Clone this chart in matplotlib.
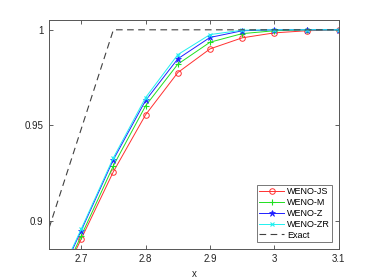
import numpy as np
import matplotlib
matplotlib.use("Agg")
import matplotlib.pyplot as plt

# values
x = [2.65, 2.7, 2.75, 2.8, 2.85, 2.9, 2.95, 3.0, 3.05, 3.1]
weno_js = [0.855, 0.8904, 0.9257, 0.9555, 0.9776, 0.990, 0.9958, 0.9984, 0.9995, 1.0]
weno_m = [0.856, 0.892, 0.9288, 0.9602, 0.982, 0.9935, 0.998, 0.9995, 1.0, 1.0]
weno_z = [0.858, 0.8948, 0.932, 0.963, 0.9848, 0.996, 0.9995, 1.0, 1.0, 1.0]
weno_zr = [0.859, 0.8956, 0.933, 0.9645, 0.987, 0.9975, 0.9998, 1.0, 1.0, 1.0]
exact_x = [2.55, 2.75, 3.1]
exact_y = [0.792, 1.0, 1.0]

xticks = [2.7, 2.8, 2.9, 3.0, 3.1]
xticklabels = ["2.7", "2.8", "2.9", "3", "3.1"]
yticks = [0.9, 0.95, 1.0]
yticklabels = ["0.9", "0.95", "1"]

plt.rcParams['font.family'] = ['Liberation Sans', 'DejaVu Sans']
fig = plt.figure(figsize=(3.74, 2.8), dpi=100)
ax = fig.add_axes([0.131, 0.111, 0.775, 0.818])

lw = 0.7
ax.plot(x, weno_js, color='#ff3030', lw=lw, marker='o', ms=4, mfc='none', mew=0.7, label='WENO-JS')
ax.plot(x, weno_m, color='#20e020', lw=lw, marker='+', ms=4.5, mew=0.8, label='WENO-M')
ax.plot(x, weno_z, color='#2020ff', lw=lw, marker='*', ms=4.5, mew=0.5, label='WENO-Z')
ax.plot(x, weno_zr, color='#20f0f0', lw=lw, marker='x', ms=3.5, mew=0.8, label='WENO-ZR')
ax.plot(exact_x, exact_y, color='#404040', lw=0.8, ls=(0, (6, 4)), label='Exact')

ax.set_xlim(2.65, 3.1)
ax.set_ylim(0.8852, 1.0052)
ax.set_xticks(xticks)
ax.set_xticklabels(xticklabels)
ax.set_yticks(yticks)
ax.set_yticklabels(yticklabels)
ax.tick_params(direction='in', top=True, right=True, labelsize=7, length=3,
               width=0.6, colors='#444444', labelcolor='#222222', pad=4)
for s in ax.spines.values():
    s.set_color('#555555')
    s.set_linewidth(0.7)
ax.set_xlabel('x', fontsize=7, color='#222222', labelpad=3)

leg = ax.legend(loc='lower right', fontsize=6.5, frameon=True, fancybox=False,
                edgecolor='#555555', handlelength=2.8, handletextpad=0.25,
                labelspacing=0.2, borderpad=0.25, borderaxespad=0,
                bbox_to_anchor=(0.976, 0.031))
leg.get_frame().set_linewidth(0.7)

fig.savefig('out.png', dpi=100)
